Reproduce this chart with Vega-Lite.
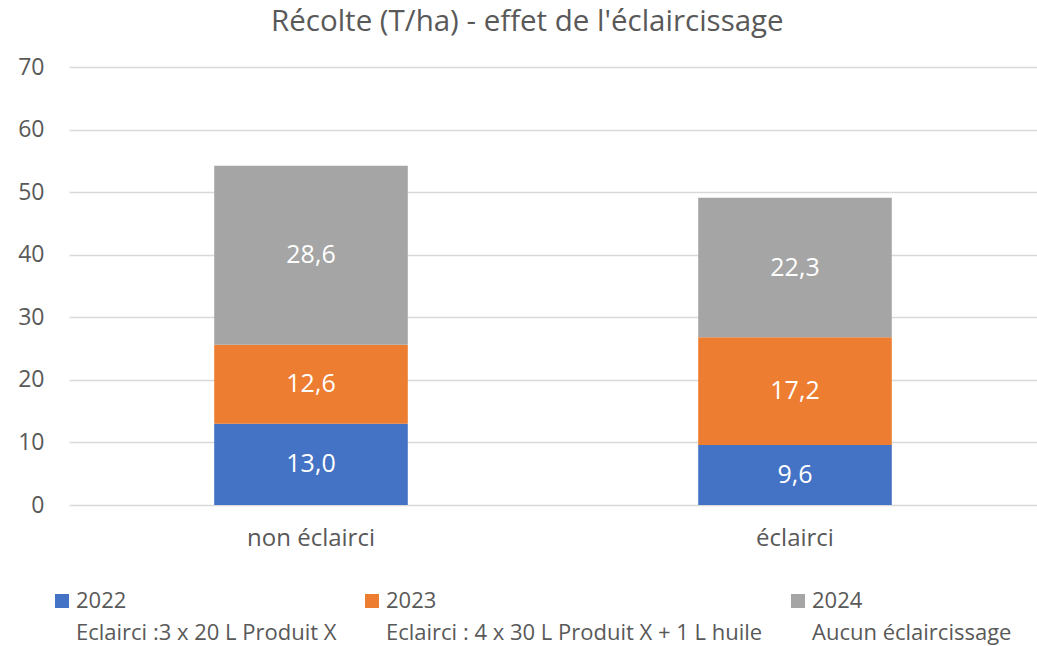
{
  "$schema": "https://vega.github.io/schema/vega-lite/v6.json",
  "width": 968,
  "height": 438,
  "autosize": {"type": "none"},
  "padding": {"left": 69, "top": 67, "right": 0, "bottom": 141},
  "background": "white",
  "title": {
    "text": "Récolte (T/ha) - effet de l'éclaircissage",
    "fontSize": 29.5,
    "font": "Open Sans",
    "fontWeight": "normal",
    "color": "#595959",
    "anchor": "middle",
    "frame": "bounds",
    "offset": 19
  },
  "config": {
    "view": {"stroke": null},
    "locale": {"number": {"decimal": ",", "thousands": " ", "grouping": [3], "currency": ["", " €"]}},
    "font": "Open Sans"
  },
  "data": {
    "values": [
      {"traitement": "non éclairci", "serie": "2022|Eclairci :3 x 20 L Produit X", "recolte": 13.0},
      {"traitement": "non éclairci", "serie": "2023|Eclairci : 4 x 30 L Produit X + 1 L huile", "recolte": 12.6},
      {"traitement": "non éclairci", "serie": "2024|Aucun éclaircissage", "recolte": 28.6},
      {"traitement": "éclairci", "serie": "2022|Eclairci :3 x 20 L Produit X", "recolte": 9.6},
      {"traitement": "éclairci", "serie": "2023|Eclairci : 4 x 30 L Produit X + 1 L huile", "recolte": 17.2},
      {"traitement": "éclairci", "serie": "2024|Aucun éclaircissage", "recolte": 22.3}
    ]
  },
  "encoding": {
    "x": {
      "field": "traitement",
      "type": "nominal",
      "sort": ["non éclairci", "éclairci"],
      "scale": {"paddingInner": 0.6, "paddingOuter": 0.3},
      "axis": {
        "title": null,
        "labelAngle": 0,
        "domain": false,
        "ticks": false,
        "labelFontSize": 24,
        "labelColor": "#595959",
        "labelPadding": 21
      }
    },
    "y": {
      "field": "recolte",
      "type": "quantitative",
      "stack": "zero",
      "scale": {"domain": [0, 70], "nice": false},
      "axis": {
        "title": null,
        "values": [0, 10, 20, 30, 40, 50, 60, 70],
        "domain": false,
        "ticks": false,
        "gridColor": "#d9d9d9",
        "gridWidth": 1.3,
        "labelFontSize": 23,
        "labelColor": "#595959",
        "labelPadding": 25
      }
    },
    "order": {"field": "serie", "type": "ordinal"}
  },
  "layer": [
    {
      "mark": {"type": "bar"},
      "encoding": {
        "color": {
          "field": "serie",
          "type": "nominal",
          "scale": {
            "domain": ["2022|Eclairci :3 x 20 L Produit X", "2023|Eclairci : 4 x 30 L Produit X + 1 L huile", "2024|Aucun éclaircissage"],
            "range": ["#4472C4", "#ED7D31", "#A5A5A5"]
          },
          "legend": {
            "title": null,
            "orient": "none",
            "legendX": -18,
            "legendY": 523,
            "direction": "horizontal",
            "columns": 3,
            "columnPadding": 24,
            "symbolType": "square",
            "symbolSize": 196,
            "symbolStrokeWidth": 0,
            "labelFontSize": 22,
            "labelColor": "#595959",
            "labelLimit": 600,
            "labelOffset": 3,
            "labelExpr": "split(datum.label, '|')",
            "encoding": {
              "labels": {"lineHeight": {"value": 32}}
            }
          }
        }
      }
    },
    {
      "mark": {"type": "text", "color": "white", "fontSize": 25},
      "encoding": {
        "y": {"field": "recolte", "type": "quantitative", "stack": "zero", "bandPosition": 0.5},
        "text": {"field": "recolte", "type": "quantitative", "format": ".1f"}
      }
    }
  ]
}
